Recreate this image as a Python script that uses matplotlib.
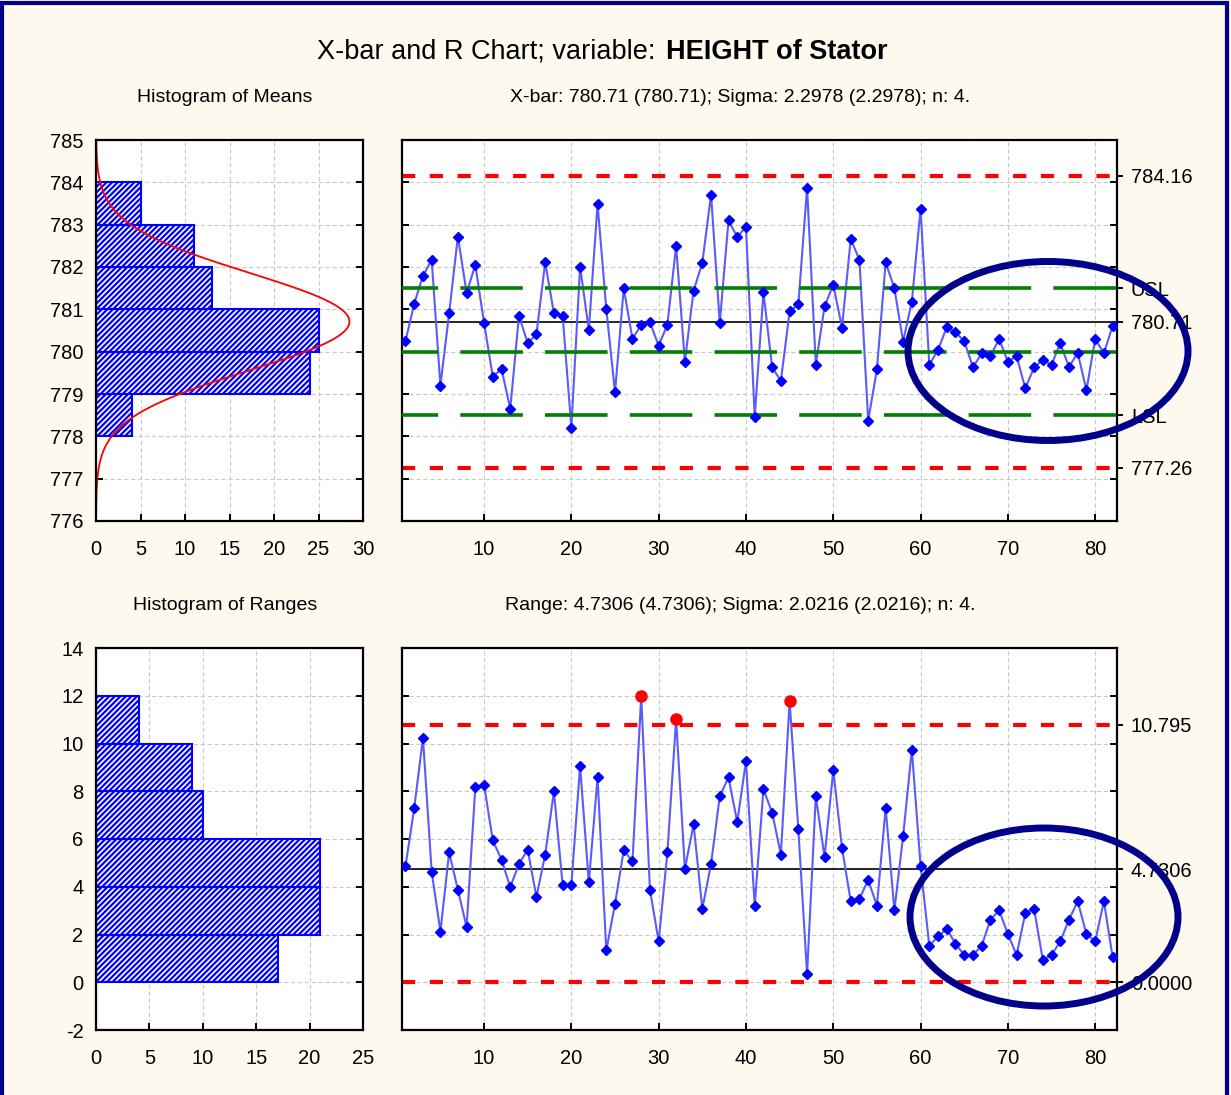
import numpy as np
import matplotlib
matplotlib.use("Agg")
import matplotlib.pyplot as plt
from matplotlib.patches import Ellipse, Rectangle

plt.rcParams["font.family"] = ["Liberation Sans Narrow", "Liberation Sans", "DejaVu Sans"]
plt.rcParams["lines.scale_dashes"] = False
plt.rcParams["hatch.linewidth"] = 1.6
plt.rcParams["hatch.color"] = "#0000ff"
plt.rcParams["axes.unicode_minus"] = False

# ---- data ----
sample_no = np.arange(1, 83)
xbar_means = [
    780.25, 781.13, 781.79, 782.17, 779.20, 780.91, 782.72, 781.39, 782.05, 780.68,
    779.41, 779.59, 778.65, 780.85, 780.20, 780.41, 782.11, 780.91, 780.85, 778.20,
    782.01, 780.51, 783.49, 781.01, 779.04, 781.50, 780.30, 780.64, 780.69, 780.14,
    780.64, 782.50, 779.76, 781.44, 782.10, 783.71, 780.68, 783.10, 782.71, 782.95,
    778.46, 781.40, 779.63, 779.31, 780.95, 781.12, 783.87, 779.69, 781.07, 781.58,
    780.57, 782.66, 782.17, 778.37, 779.58, 782.11, 781.50, 780.24, 781.18, 783.38,
    779.69, 780.04, 780.58, 780.46, 780.25, 779.63, 779.96, 779.90, 780.30, 779.76,
    779.90, 779.13, 779.63, 779.80, 779.69, 780.20, 779.64, 779.97, 779.09, 780.30,
    779.96, 780.61,
]
ranges = [
    4.86, 7.29, 10.23, 4.63, 2.12, 5.44, 3.88, 2.31, 8.17, 8.27,
    5.94, 5.14, 3.98, 4.96, 5.55, 3.57, 5.35, 7.99, 4.08, 4.08,
    9.06, 4.18, 8.58, 1.33, 3.28, 5.53, 5.06, 11.98, 3.88, 1.71,
    5.44, 11.02, 4.75, 6.61, 3.08, 4.95, 7.79, 8.58, 6.71, 9.26,
    3.20, 8.08, 7.10, 5.35, 11.77, 6.40, 0.35, 7.80, 5.24, 8.88,
    5.63, 3.39, 3.49, 4.29, 3.20, 7.30, 3.01, 6.12, 9.74, 4.88,
    1.53, 1.92, 2.23, 1.61, 1.14, 1.14, 1.53, 2.62, 3.01, 2.02,
    1.14, 2.90, 3.08, 0.94, 1.14, 1.71, 2.62, 3.39, 2.02, 1.71,
    3.39, 1.05,
]

mean_bins = [778, 779, 780, 781, 782, 783]
mean_counts = [4, 24, 25, 13, 11, 5]
range_bins = [0, 2, 4, 6, 8, 10]
range_counts = [17, 21, 21, 10, 9, 4]

xbar_center, xbar_sigma, n_sub = 780.71, 2.2978, 4
xbar_ucl, xbar_lcl = 784.16, 777.26
usl, target, lsl = 781.5, 780.0, 778.5
r_center, r_ucl, r_lcl = 4.7306, 10.795, 0.0

# ---- figure ----
W, H = 1231, 1095
fig = plt.figure(figsize=(W / 100, H / 100), dpi=100)
fig.patch.set_facecolor("#fdf9ee")

def box(l, t, r, b):
    return [l / W, 1 - b / H, (r - l) / W, (b - t) / H]

ax_hm = fig.add_axes(box(96, 140, 363, 521))
ax_x = fig.add_axes(box(402, 140, 1117, 521))
ax_hr = fig.add_axes(box(96, 648, 363, 1030))
ax_r = fig.add_axes(box(402, 648, 1117, 1030))

TICK_FS = 14.5
grid_kw = dict(color="#c8c8c8", linestyle=(0, (3, 2)), linewidth=0.8)

def style(ax):
    ax.set_facecolor("white")
    for s in ax.spines.values():
        s.set_linewidth(1.6)
        s.set_color("black")
    ax.tick_params(direction="in", length=5, width=1.4, labelsize=TICK_FS,
                   top=False, right=True)
    ax.grid(True, **grid_kw)
    ax.set_axisbelow(True)

# histogram of means
style(ax_hm)
ax_hm.barh(mean_bins, mean_counts, height=1, align="edge", color="white",
           edgecolor="#0000ff", hatch="//////", linewidth=1.5)
yy = np.linspace(776, 785, 300)
s_mean = xbar_sigma / np.sqrt(n_sub)
curve = sum(mean_counts) / (s_mean * np.sqrt(2 * np.pi)) * np.exp(-0.5 * ((yy - xbar_center) / s_mean) ** 2)
ax_hm.plot(curve, yy, color="red", lw=1.3)
ax_hm.set_xlim(0, 30)
ax_hm.set_ylim(776, 785)
ax_hm.set_xticks(range(0, 31, 5))
ax_hm.set_yticks(range(776, 786))
ax_hm.tick_params(axis="x", pad=14)
ax_hm.tick_params(axis="y", pad=9)

# histogram of ranges
style(ax_hr)
ax_hr.barh(range_bins, range_counts, height=2, align="edge", color="white",
           edgecolor="#0000ff", hatch="//////", linewidth=1.5)
ax_hr.set_xlim(0, 25)
ax_hr.set_ylim(-2, 14)
ax_hr.set_xticks(range(0, 26, 5))
ax_hr.set_yticks(range(-2, 15, 2))
ax_hr.tick_params(axis="x", pad=14)
ax_hr.tick_params(axis="y", pad=9)

red_dash = (0, (9.5, 10.5))
green_dash = (19, (45, 16))

def run_chart(ax, values, center, ucl, lcl, ylim, yticks, right_ticks, right_labels, ooc):
    style(ax)
    ax.tick_params(axis="y", labelleft=False)
    ax.set_xlim(0.6, 82.5)
    ax.set_ylim(*ylim)
    ax.set_xticks(range(10, 81, 10))
    ax.set_yticks(yticks)
    ax.tick_params(axis="x", pad=14)
    ax.axhline(ucl, color="red", lw=3, linestyle=red_dash, zorder=2)
    ax.axhline(lcl, color="red", lw=3, linestyle=red_dash, zorder=2)
    ax.axhline(center, color="black", lw=1.2, zorder=2)
    vals = np.array(values)
    ax.plot(sample_no, vals, color="#5a5aff", lw=1.5, zorder=3)
    mask = vals > ucl if ooc else np.zeros(len(vals), bool)
    ax.plot(sample_no[~mask], vals[~mask], "D", color="#0000ff", ms=5.5, zorder=4, mec="#0000ff")
    ax.plot(sample_no[mask], vals[mask], "o", color="red", ms=8, zorder=4)
    sec = ax.secondary_yaxis("right")
    sec.set_yticks(right_ticks)
    sec.set_yticklabels(right_labels)
    sec.tick_params(direction="out", length=4, width=1.4, labelsize=TICK_FS, pad=6)
    sec.spines["right"].set_visible(False)
    return ax

run_chart(ax_x, xbar_means, xbar_center, xbar_ucl, xbar_lcl, (776, 785), range(776, 786),
          [xbar_ucl, usl, xbar_center, lsl, xbar_lcl],
          ["784.16", "USL", "780.71", "LSL", "777.26"], False)
for lvl in (usl, target, lsl):
    ax_x.axhline(lvl, color="#008000", lw=2.6, linestyle=green_dash, zorder=3.5)

run_chart(ax_r, ranges, r_center, r_ucl, r_lcl, (-2, 14), range(-2, 15, 2),
          [r_ucl, r_center, r_lcl], ["10.795", "4.7306", "0.0000"], True)

# titles
fig.text(663 / W, 1 - 52 / H, "X-bar and R Chart; variable: ", ha="right", va="center", fontsize=19.5)
fig.text(666 / W, 1 - 52 / H, "HEIGHT of Stator", ha="left", va="center", fontsize=19.5, fontweight="bold")
fig.text(225 / W, 1 - 97 / H, "Histogram of Means", ha="center", va="center", fontsize=14)
fig.text(740 / W, 1 - 97 / H, "X-bar: 780.71 (780.71); Sigma: 2.2978 (2.2978); n: 4.",
         ha="center", va="center", fontsize=14)
fig.text(225 / W, 1 - 605 / H, "Histogram of Ranges", ha="center", va="center", fontsize=14)
fig.text(740 / W, 1 - 605 / H, "Range: 4.7306 (4.7306); Sigma: 2.0216 (2.0216); n: 4.",
         ha="center", va="center", fontsize=14)

# highlight ellipses
navy = "#00008b"
fig.patches.append(Ellipse((1048 / W, 1 - 351 / H), 280 / W, 179 / H, fill=False,
                           edgecolor=navy, lw=5, transform=fig.transFigure, zorder=10))
fig.patches.append(Ellipse((1044 / W, 1 - 917 / H), 268 / W, 178 / H, fill=False,
                           edgecolor=navy, lw=5, transform=fig.transFigure, zorder=10))
# outer frame
fig.patches.append(Rectangle((2 / W, -0.01), (W - 6) / W, 1.01 - 3 / H, fill=False,
                             edgecolor=navy, lw=3, transform=fig.transFigure, zorder=10))

fig.savefig("out.png", dpi=100, facecolor=fig.get_facecolor())
